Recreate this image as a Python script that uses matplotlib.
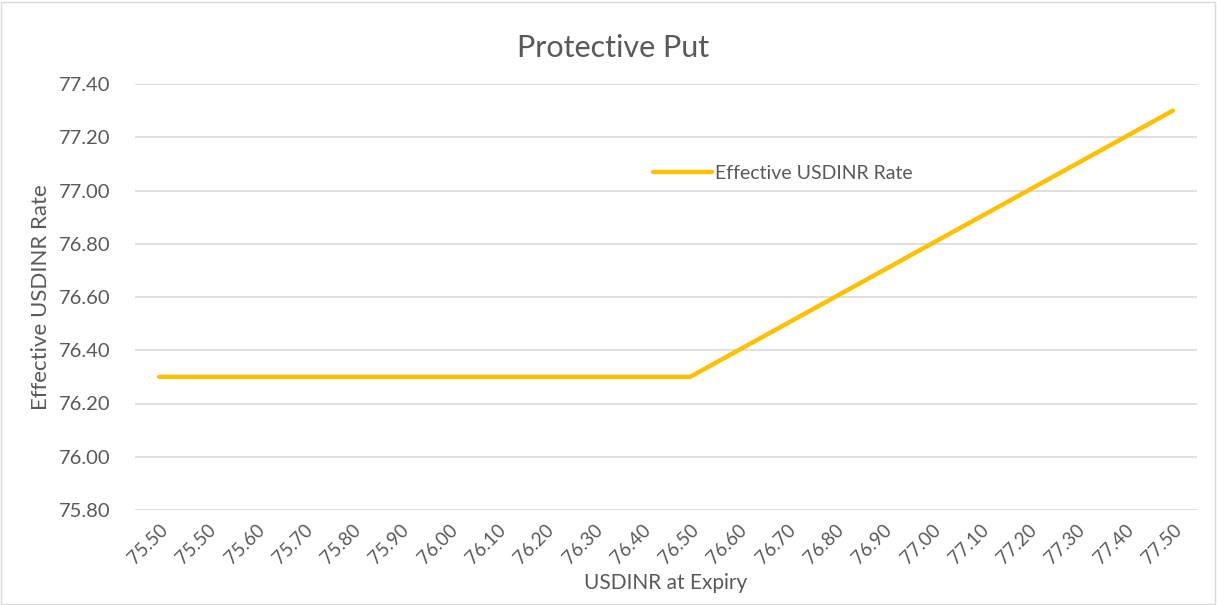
import matplotlib.pyplot as plt
from matplotlib.patches import Rectangle

# data
expiry_labels = ["75.50", "75.50", "75.60", "75.70", "75.80", "75.90", "76.00",
                 "76.10", "76.20", "76.30", "76.40", "76.50", "76.60", "76.70",
                 "76.80", "76.90", "77.00", "77.10", "77.20", "77.30", "77.40",
                 "77.50"]
effective_rate = [76.30, 76.30, 76.30, 76.30, 76.30, 76.30, 76.30, 76.30,
                  76.30, 76.30, 76.30, 76.30, 76.40, 76.50, 76.60, 76.70,
                  76.80, 76.90, 77.00, 77.10, 77.20, 77.30]
y_ticks = [75.80, 76.00, 76.20, 76.40, 76.60, 76.80, 77.00, 77.20, 77.40]

plt.rcParams['font.family'] = ['Lato', 'DejaVu Sans']
text_color = "#595959"

fig = plt.figure(figsize=(12.17, 6.05), dpi=100)
ax = fig.add_axes([135 / 1217, 1 - 510 / 605, 1062 / 1217, 426 / 605])

x = list(range(len(expiry_labels)))
ax.plot(x, effective_rate, color="#FFC000", linewidth=3.2,
        solid_capstyle="round", label="Effective USDINR Rate")

ax.set_xlim(-0.5, len(x) - 0.5)
ax.set_ylim(75.80, 77.40)
ax.set_yticks(y_ticks)
ax.set_yticklabels([f"{v:.2f}" for v in y_ticks], fontsize=14.5, color=text_color)
ax.set_xticks(x)
ax.set_xticklabels(expiry_labels, rotation=45, ha="right", rotation_mode="anchor",
                   fontsize=13.5, color=text_color)
ax.tick_params(length=0, pad=18)
ax.tick_params(axis="x", pad=8)
ax.grid(axis="y", color="#D9D9D9", linewidth=1.2)
ax.set_axisbelow(True)
for s in ax.spines.values():
    s.set_visible(False)

ax.set_xlabel("USDINR at Expiry", fontsize=15, color=text_color, labelpad=4)
ax.set_ylabel("Effective USDINR Rate", fontsize=16, color=text_color, labelpad=5)
fig.text(0.504, 1 - 48 / 605, "Protective Put", ha="center", va="center",
         fontsize=22, color=text_color)

leg = ax.legend(loc="center left", bbox_to_anchor=(0.488, 0.791), frameon=False,
                borderpad=0, borderaxespad=0, handlelength=3.0, handletextpad=0.2,
                fontsize=14)
for t in leg.get_texts():
    t.set_color(text_color)

fig.patches.append(Rectangle((0.001, 0.002), 0.997, 0.995, transform=fig.transFigure,
                             fill=False, edgecolor="#D9D9D9", linewidth=1))

fig.savefig("out.png", dpi=100)
